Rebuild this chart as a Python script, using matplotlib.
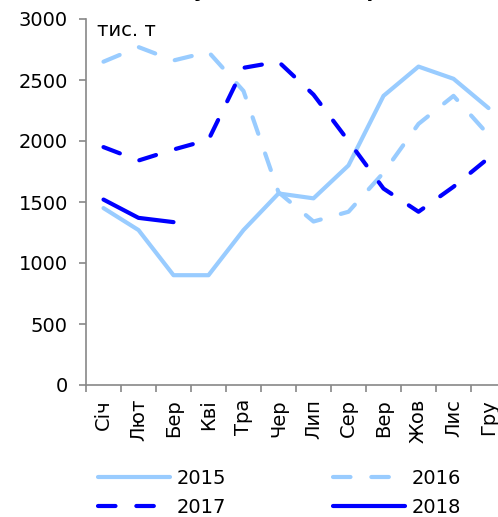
import matplotlib
matplotlib.use("Agg")
import matplotlib.pyplot as plt
from matplotlib.lines import Line2D

months = ["Січ", "Лют", "Бер", "Кві", "Тра", "Чер", "Лип", "Сер", "Вер", "Жов", "Лис", "Гру"]
y2015 = [1450, 1270, 900, 900, 1270, 1570, 1530, 1800, 2370, 2610, 2510, 2270]
y2016 = [2650, 2770, 2660, 2730, 2410, 1580, 1340, 1420, 1740, 2140, 2370, 2050]
y2017 = [1950, 1840, 1930, 2010, 2600, 2650, 2380, 2000, 1610, 1420, 1625, 1860]
y2018 = [1520, 1370, 1335]
yticks = [0, 500, 1000, 1500, 2000, 2500, 3000]

light = "#99CCFF"
dark = "#0000FF"
plt.rcParams['font.family'] = ['DejaVu Sans']

fig = plt.figure(figsize=(4.98, 5.17), dpi=100)
ax = fig.add_axes([86/498, 132/517, 420/498, 366/517])

lw = 3.0
dash = (4.2, 5.0)
x = list(range(len(months)))
ax.plot(x, y2015, color=light, lw=lw, solid_capstyle='round', solid_joinstyle='round')
ax.plot(x, y2016, color=light, lw=lw, linestyle=(0, dash), dash_capstyle='round')
ax.plot(x, y2017, color=dark, lw=lw, linestyle=(0, dash), dash_capstyle='round')
ax.plot(x[:len(y2018)], y2018, color=dark, lw=lw, solid_capstyle='round')

ax.set_xlim(-0.5, 11.5)
ax.set_ylim(0, 3000)
ax.set_yticks(yticks)
ax.set_yticklabels([str(v) for v in yticks], fontsize=14)
ax.set_xticks(x)
ax.set_xticklabels(months, rotation=90, fontsize=14)
ax.tick_params(axis='x', length=0, pad=10)
ax.set_xticks([i - 0.5 for i in range(13)], minor=True)
ax.tick_params(axis='x', which='minor', length=5, color='#888888', width=1.2)
ax.tick_params(axis='y', length=5, color='#888888', width=1.2, pad=8)
for s in ['top', 'right']:
    ax.spines[s].set_visible(False)
for s in ['left', 'bottom']:
    ax.spines[s].set_color('#888888')
    ax.spines[s].set_linewidth(1.2)

ax.text(0.025, 0.995, "тис. т", transform=ax.transAxes, fontsize=14, va='top', ha='left')

fig.text(108/498, 520/517, "Запаси у сховищах, Укр", fontsize=14, fontweight='bold',
         va='baseline', ha='left')

h2015 = Line2D([], [], color=light, lw=lw, solid_capstyle='round')
h2016 = Line2D([], [], color=light, lw=lw, linestyle=(0, dash), dash_capstyle='round')
h2017 = Line2D([], [], color=dark, lw=lw, linestyle=(0, dash), dash_capstyle='round')
h2018 = Line2D([], [], color=dark, lw=lw, solid_capstyle='round')
fig.legend([h2015, h2017, h2016, h2018], ["2015", "2017", "2016", "2018"], ncol=2,
           frameon=False, fontsize=14,
           loc='center left', bbox_to_anchor=(90/498, 24/517), handlelength=3.7,
           handletextpad=0.35, columnspacing=5.5, labelspacing=0.5, borderaxespad=0)

fig.savefig("out.png", dpi=100)
